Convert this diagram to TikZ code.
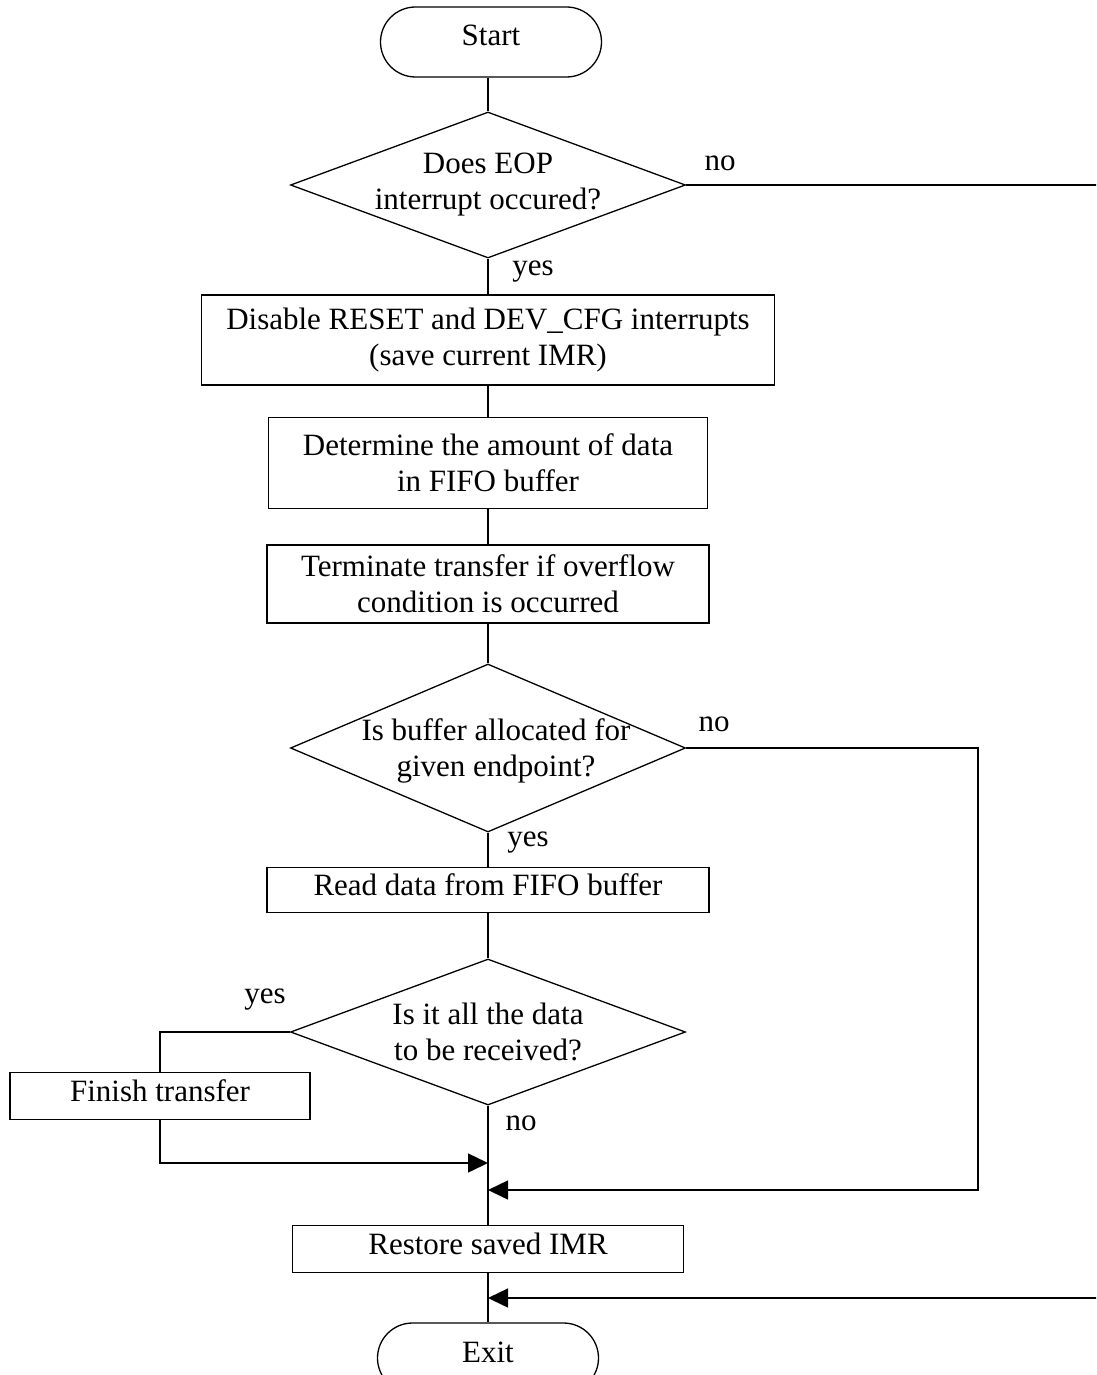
\documentclass[tikz,border=0pt]{standalone}
\usepackage{fontspec}
\setmainfont{Liberation Serif}
\usetikzlibrary{arrows.meta,shapes.geometric,shapes.misc}

\begin{document}
\begin{tikzpicture}[x=1pt, y=-1pt, font=\fontsize{31}{36}\selectfont,
	term/.style={draw, rounded rectangle, line width=1.3pt, inner sep=0pt, minimum width=221pt, minimum height=70pt, text height=21pt, text depth=13pt},
	proc/.style={draw, rectangle, align=center, line width=1.3pt, inner sep=0pt},
	oneline/.style={proc, text height=21pt, text depth=10pt},
	decision/.style={draw, diamond, line width=1.3pt, inner sep=0pt, minimum width=395pt},
	question/.style={align=center, inner sep=0pt},
	answer/.style={inner sep=0pt},
	flow/.style={line width=1.5pt},
	arr/.style={flow, -{Triangle[length=20pt, width=19pt]}}]
	\useasboundingbox (0,0) rectangle (1096,1375);
	\clip (0,0) rectangle (1096,1375);

	% main column
	\node[term] (start) at (491,42) {Start};
	\node[decision, minimum height=146pt] (eop) at (488,185) {};
	\node[question] (eopq) at (eop) {Does EOP\\interrupt occured?};
	\node[proc, minimum width=573pt, minimum height=90pt] (disable) at (488,340) {Disable RESET and DEV\_CFG interrupts\\(save current IMR)};
	\node[proc, minimum width=439pt, minimum height=91pt] (amount) at (488,463) {Determine the amount of data\\in FIFO buffer};
	\node[proc, minimum width=442pt, minimum height=78pt] (overflow) at (488,584) {Terminate transfer if overflow\\condition is occurred};
	\node[decision, minimum height=168pt] (buffer) at (488,748) {};
	\node[question] (bufferq) at (496,751) {Is buffer allocated for\\given endpoint?};
	\node[oneline, minimum width=442pt, minimum height=45pt] (readfifo) at (488,890) {Read data from FIFO buffer};
	\node[decision, minimum height=146pt] (alldata) at (488,1032) {};
	\node[question] (alldataq) at (alldata) {Is it all the data\\to be received?};
	\node[oneline, minimum width=300pt, minimum height=47pt] (finish) at (160,1096) {Finish transfer};
	\node[oneline, minimum width=391pt, minimum height=47pt] (restore) at (488,1249) {Restore saved IMR};
	\node[term] (exit) at (488,1358) {Exit};

	% branch labels
	\node[answer] (eopno) at (720,163) {no};
	\node[answer] (eopyes) at (533,272) {yes};
	\node[answer] (bufferno) at (714,724) {no};
	\node[answer] (bufferyes) at (528,843) {yes};
	\node[answer] (alldatayes) at (265,1000) {yes};
	\node[answer] (alldatano) at (521,1123) {no};

	\coordinate (joinA) at (488,1163);
	\coordinate (joinB) at (488,1190);
	\coordinate (joinC) at (488,1298);
	\coordinate (loopR) at (978,1190);
	\coordinate (farR) at (1112,185);

	\draw[flow] (eop.north |- start.south) -- (eop.north);
	\draw[flow] (eop) -- (disable);
	\draw[flow] (disable) -- (amount);
	\draw[flow] (amount) -- (overflow);
	\draw[flow] (overflow) -- (buffer);
	\draw[flow] (buffer) -- (readfifo);
	\draw[flow] (readfifo) -- (alldata);
	\draw[flow] (alldata) -- (restore);
	\draw[flow] (restore) -- (exit);
	\draw[flow] (alldata.west) -| (finish.north);
	\draw[arr] (finish.south) |- (joinA);
	\draw[arr] (buffer.east) -| (loopR) -- (joinB);
	\draw[arr] (eop.east) -- (farR) |- (joinC);
\end{tikzpicture}
\end{document}
